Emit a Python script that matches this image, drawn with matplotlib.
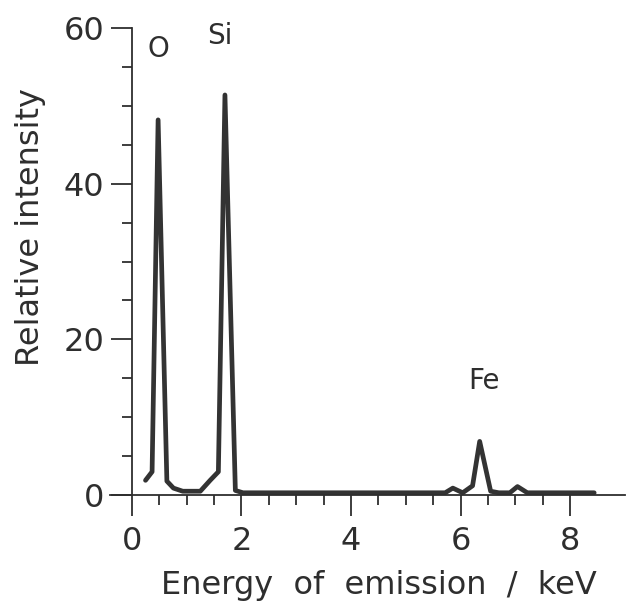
import matplotlib
matplotlib.use("Agg")
import matplotlib.pyplot as plt
from matplotlib.ticker import MultipleLocator, FixedLocator

# spectrum (energy in keV, relative intensity)
energy = [0.25, 0.37, 0.48, 0.64, 0.76, 0.93, 1.25, 1.43, 1.58, 1.70, 1.89, 2.03,
          5.72, 5.86, 6.04, 6.22, 6.35, 6.55, 6.70, 6.90, 7.04, 7.22, 8.44]
intensity = [1.9, 3.0, 48.2, 1.8, 0.9, 0.5, 0.5, 1.9, 3.0, 51.4, 0.6, 0.3,
             0.3, 0.9, 0.3, 1.2, 6.9, 0.5, 0.3, 0.3, 1.1, 0.3, 0.3]

peak_names = ["O", "Si", "Fe"]
peak_x = [0.49, 1.61, 6.42]
peak_y = [57.3, 59.0, 14.6]

ink = "#2e2e2e"
plt.rcParams['font.family'] = ['DejaVu Sans']

fig = plt.figure(figsize=(6.28, 6.09), dpi=100)
ax = fig.add_axes([0.175, 0.187, 0.82, 0.767])

ax.plot(energy, intensity, color="#333333", lw=3.4, solid_joinstyle="round",
        solid_capstyle="round")

for name, x, y in zip(peak_names, peak_x, peak_y):
    ax.text(x, y, name, ha="center", va="center", fontsize=20, color=ink)

ax.set_xlim(-0.4, 9.0)
ax.set_ylim(0, 60)

ax.spines["left"].set_position(("data", 0))
ax.spines["top"].set_visible(False)
ax.spines["right"].set_visible(False)
for s in ("left", "bottom"):
    ax.spines[s].set_linewidth(1.3)
    ax.spines[s].set_color(ink)

ax.xaxis.set_major_locator(FixedLocator([0, 2, 4, 6, 8]))
ax.xaxis.set_minor_locator(FixedLocator([0.5, 1, 1.5, 2.5, 3, 3.5, 4.5, 5, 5.5,
                                         6.5, 7, 7.5]))
ax.yaxis.set_major_locator(MultipleLocator(20))
ax.yaxis.set_minor_locator(MultipleLocator(5))

ax.tick_params(axis="x", which="major", direction="out", length=15, width=1.3,
               color=ink, labelsize=23, labelcolor=ink, pad=7)
ax.tick_params(axis="x", which="minor", direction="out", length=7, width=1.3, color=ink)
ax.tick_params(axis="y", which="major", direction="out", length=15, width=1.3,
               color=ink, labelsize=23, labelcolor=ink, pad=5)
ax.tick_params(axis="y", which="minor", direction="out", length=7.5, width=1.3, color=ink)

ax.set_xlabel("Energy  of  emission  /  keV", fontsize=23, color=ink)
ax.set_ylabel("Relative intensity", fontsize=23, color=ink)
ax.xaxis.set_label_coords(0.522, -0.16)
ax.yaxis.set_label_coords(-0.125, 0.575)

fig.savefig("out.png", dpi=100)
